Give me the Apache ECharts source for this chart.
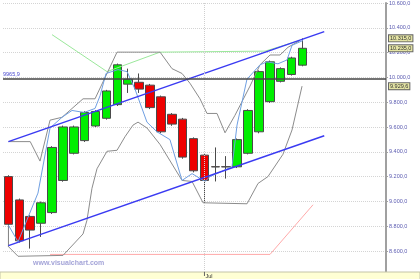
<!DOCTYPE html>
<html><head><meta charset="utf-8">
<script src="https://cdn.jsdelivr.net/npm/echarts@6/dist/echarts.min.js"></script>
<style>html,body{margin:0;padding:0;background:#fff}#c{width:420px;height:279px}</style>
</head><body><div id="c"></div>
<script>
// ---- data ----
const opens  = [9201, 9013, 8880, 8825, 8911, 9170, 9389, 9491, 9609, 9671, 9781, 9946, 9961, 9938, 9844, 9703, 9664, 9507, 9374, 9281, 9281, 9280, 9389, 9562, 9805, 9969, 10024, 10099];
const closes = [8817, 8684, 8770, 8990, 9436, 9601, 9601, 9718, 9726, 9891, 10102, 9985, 9906, 9757, 9562, 9624, 9358, 9248, 9170, 9279, 9279, 9499, 9734, 10047, 10126, 10071, 10157, 10235];
const lows   = [8637, 8670, 8621, 8715, 8900, 9160, 9380, 9480, 9600, 9660, 9770, 9875, 9875, 9745, 9550, 9610, 9345, 9235, 8982, 9162, 9185, 9270, 9380, 9550, 9795, 9960, 10015, 10090];
const highs  = [9212, 9024, 8890, 9000, 9446, 9612, 9612, 9728, 9736, 9900, 10112, 10071, 10032, 9948, 9854, 9713, 9674, 9517, 9384, 9436, 9366, 9508, 9744, 10057, 10136, 10081, 10167, 10315];

const channelUpper = [[0, 9483], [29, 10369]];
const channelLower = [[0, 8645], [29, 9530]];
const bandUpper = [[0, 9483], [2, 9483], [2.9, 9326], [3.82, 9656], [4.92, 9679], [5.84, 9750], [6.85, 9828], [7.95, 9828], [9.05, 10032], [9.97, 10204], [13.92, 10204], [15.02, 10071], [15.94, 10032], [16.67, 9953], [17.59, 9828], [18.23, 9710], [19.15, 9710], [19.89, 9554], [20.8, 9695], [22.18, 9930], [23.1, 10102], [24.02, 10181], [24.94, 10181], [25.67, 10243], [26.77, 10298]];
const bandLower = [[0, 8809], [0, 8637], [0.88, 8559], [5.01, 8566], [6.85, 8739], [7.21, 8849], [7.67, 9107], [8.13, 9264], [9.05, 9405], [9.97, 9413], [10.7, 9522], [11.44, 9616], [11.9, 9640], [12.72, 9593], [13.92, 9460], [15.94, 9170], [16.86, 9162], [17.87, 8990], [21.91, 8982], [22.92, 9146], [23.83, 9201], [25.21, 9381], [26.04, 9577], [26.96, 9930]];
const thinLine = [[0, 8809], [0.88, 8676], [2.71, 9068], [3.82, 9593], [4.92, 9679], [5.84, 9734], [6.94, 9718], [7.95, 9750], [8.41, 9852], [8.96, 10032], [10.06, 10063], [10.89, 10047], [11.62, 9906], [12.72, 9640], [13.64, 9562], [14.83, 9499], [15.94, 9170], [16.86, 9225], [18.05, 9162], [18.51, 9201], [20.53, 9280], [20.99, 9616], [21.9, 9985], [23.1, 10102], [23.74, 10126], [24.75, 10110], [25.58, 10141], [26.04, 10259], [27.05, 10298]];
const greenLine = [[4.0, 10345], [9.05, 10047], [13.92, 10204], [23.56, 10212], [26.77, 10298]];
const pinkLine = [[3.82, 8574], [24.02, 8574], [27.97, 8974]];

const tagValues = [10315, 10235, 9929.6];
const refLineValue = 9989;
const refLineLabel = '9965,9';
const monthLabel = 'Jul';
const monthIndex = 18;
const watermark = 'www.visualchart.com';
const yMin = 8400, yMax = 10600, yInterval = 200;

// ---- formatting ----
function fmt(v) {
  const parts = v.toFixed(1).split('.');
  return parts[0].replace(/\B(?=(\d{3})+(?!\d))/g, '.') + ',' + parts[1];
}

const chart = echarts.init(document.getElementById('c'), null, {renderer: 'canvas'});
const FONT = 'Liberation Sans';
function lineSeries(data, color, width) {
  return {type: 'line', data: data, symbol: 'none', showSymbol: false, silent: true, z: 3,
    lineStyle: {color: color, width: width}, xAxisIndex: 0, yAxisIndex: 0};
}

const tagMarks = tagValues.map(v => ({
  yAxis: v,
  lineStyle: {color: 'rgba(0,0,0,0)', width: 1},
  label: {show: true, position: 'end', distance: 3, formatter: fmt(v), fontSize: 5.5, fontFamily: FONT,
    color: '#333', backgroundColor: '#e4e4a4', borderColor: '#666', borderWidth: 1, padding: [0, 1, 0, 1]}
}));

chart.setOption({
  animation: false,
  backgroundColor: '#fff',
  grid: {left: 3, top: 0, width: 383, height: 281, containLabel: false},
  xAxis: {type: 'value', min: -0.5, max: 34.67, show: false, axisLine: {onZero: false}, splitLine: {show: false}},
  yAxis: {
    type: 'value', position: 'right', min: yMin, max: yMax, interval: yInterval, scale: false,
    axisLine: {show: true, onZero: false, lineStyle: {color: '#a0a0a0', width: 2}},
    axisTick: {show: true, length: 2, lineStyle: {color: '#a0a0a0'}},
    axisLabel: {margin: 3, fontSize: 5.5, fontFamily: FONT, color: '#5a5ab0', formatter: v => fmt(v)},
    splitLine: {show: true, lineStyle: {color: '#d4d4d4', type: 'dotted', width: 1}}
  },
  series: [
    {
      type: 'candlestick', barWidth: 9, z: 2,
      data: opens.map((o, i) => [i, o, closes[i], lows[i], highs[i]]),
      encode: {x: 0, y: [1, 2, 3, 4]},
      itemStyle: {color: '#00ee00', color0: '#ee0000', borderColor: '#4a4a4a', borderColor0: '#4a4a4a', borderColorDoji: '#333', borderWidth: 1},
      markLine: {
        silent: true, symbol: 'none', animation: false,
        data: [
          {xAxis: monthIndex, lineStyle: {color: '#cfcfcf', type: 'dotted', width: 1}, label: {show: false}},
          {yAxis: refLineValue, lineStyle: {color: '#444', type: 'solid', width: 1.5},
            label: {show: true, position: 'insideStartTop', distance: [0, 1], formatter: refLineLabel, fontSize: 5.5, fontFamily: FONT, color: '#4a4ad0'}},
        ].concat(tagMarks)
      }
    },
    lineSeries(pinkLine, '#ffaaaa', 1),
    lineSeries(greenLine, '#9be89b', 1),
    lineSeries(bandUpper, '#8c8c8c', 1),
    lineSeries(bandLower, '#8c8c8c', 1),
    lineSeries(thinLine, '#6f9fe2', 1),
    lineSeries(channelUpper, '#3a3af2', 1.5),
    lineSeries(channelLower, '#3a3af2', 1.5)
  ]
});

const jx = chart.convertToPixel({xAxisIndex: 0}, monthIndex);
chart.setOption({
  graphic: [
    {type: 'text', left: 33, top: 260, z: 50, style: {text: watermark, fill: '#a4a4d8', fontSize: 7, fontWeight: 'bold', fontFamily: FONT}},
    {type: 'rect', z: 100, shape: {x: 0, y: 272, width: 420, height: 8}, style: {fill: '#ffffd4', stroke: '#c4c4a8', lineWidth: 1}},
    {type: 'line', z: 101, shape: {x1: jx, y1: 272, x2: jx, y2: 276}, style: {stroke: '#666', lineWidth: 1}},
    {type: 'text', z: 101, x: jx + 1, y: 273, style: {text: monthLabel, fill: '#333', fontSize: 5.5, fontFamily: FONT}}
  ]
});
</script></body></html>
